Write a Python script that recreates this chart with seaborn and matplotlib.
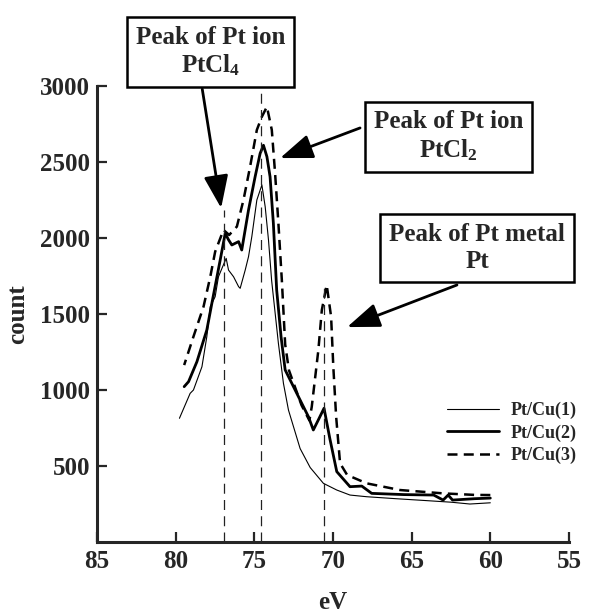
import numpy as np
import pandas as pd
import matplotlib
matplotlib.use('Agg')
import matplotlib.pyplot as plt
import seaborn as sns
from matplotlib.lines import Line2D

# 数据
thin_ev = [79.76, 79.08, 78.87, 78.33, 78.02, 77.8, 77.49, 77.28, 77.06, 76.79, 76.64, 76.32,
           76.0, 75.9, 75.58, 75.37, 75.16, 74.84, 74.52, 74.31, 74.1, 73.9, 73.47, 73.15,
           72.83, 72.09, 71.45, 70.61, 69.76, 68.92, 67.86, 66.0, 64.0, 62.5, 61.3, 60.0]
thin_ct = [814, 978, 1000, 1153, 1351, 1548, 1614, 1745, 1800, 1866, 1789, 1745,
           1680, 1669, 1789, 1877, 2009, 2250, 2349, 2206, 1987, 1720, 1307, 1044,
           868, 615, 490, 386, 342, 309, 298, 285, 272, 262, 250, 258]

solid_ev = [79.46, 79.18, 78.65, 78.02, 77.7, 77.17, 76.85, 76.65, 76.43, 76.22, 76.0, 75.8,
            75.37, 74.95, 74.63, 74.42, 74.2, 74.0, 73.79, 73.58, 73.3, 73.04, 72.09, 71.56,
            71.25, 70.9, 70.57, 70.2, 69.76, 68.92, 68.17, 67.54, 65.5, 63.6, 63.0, 62.68,
            62.4, 61.0, 60.0]
solid_ct = [1022, 1055, 1186, 1395, 1570, 1855, 2031, 1990, 1954, 1965, 1976, 1921,
            2184, 2403, 2557, 2610, 2535, 2403, 2097, 1658, 1350, 1132, 934, 824,
            737, 810, 880, 680, 463, 364, 368, 320, 312, 309, 276, 309,
            276, 285, 289]

dash_ev = [79.46, 78.87, 78.23, 77.8, 77.49, 76.96, 76.6, 76.11, 75.69, 75.27, 74.84, 74.52,
           74.2, 73.89, 73.68, 73.47, 73.25, 73.04, 72.8, 72.0, 71.5, 71.35, 70.93, 70.71,
           70.4, 70.12, 69.98, 69.8, 69.55, 69.1, 67.86, 65.74, 63.0, 61.0, 60.0]
dash_ct = [1164, 1351, 1548, 1745, 1910, 2053, 2020, 2075, 2250, 2469, 2711, 2798,
           2864, 2711, 2425, 2097, 1720, 1300, 1130, 900, 800, 890, 1263, 1526,
           1691, 1482, 1153, 824, 518, 441, 386, 342, 320, 310, 309]

labels = ['Pt/Cu(1)', 'Pt/Cu(2)', 'Pt/Cu(3)']

# 峰位参考线
ref_ev = [76.9, 74.6, 70.6]
ref_top = [2184, 2954, 1700]

plt.rcParams['mathtext.fontset'] = 'custom'
plt.rcParams['mathtext.rm'] = 'Liberation Serif:bold'
plt.rcParams['mathtext.it'] = 'Liberation Serif:bold'
plt.rcParams['mathtext.bf'] = 'Liberation Serif:bold'
plt.rcParams['mathtext.default'] = 'rm'
sns.set_style('ticks')
plt.rcParams['font.family'] = ['Liberation Serif', 'DejaVu Serif']
plt.rcParams['font.weight'] = 'bold'

fig = plt.figure(figsize=(5.94, 6.16), dpi=100)
ax = fig.add_axes([0.1633, 0.1201, 0.7946, 0.7403])

sns.lineplot(x=thin_ev, y=thin_ct, ax=ax, color='black', lw=0.8)
sns.lineplot(x=solid_ev, y=solid_ct, ax=ax, color='black', lw=2.0)
sns.lineplot(x=dash_ev, y=dash_ct, ax=ax, color='black', lw=1.8, dashes=False,
             linestyle=(0, (4, 2.5)))

ax.vlines(ref_ev, 0, ref_top, colors='#222222', lw=0.9, linestyles=(0, (8, 5)))

ax.set_xlim(85, 55)
ax.set_ylim(0, 3000)
ax.set_xticks([85, 80, 75, 70, 65, 60, 55])
ax.set_yticks([500, 1000, 1500, 2000, 2500, 3000])
ax.tick_params(direction='in', length=7, width=1.6, labelsize=18, pad=5)
ax.tick_params(axis='x', pad=6)
for s in ['top', 'right']:
    ax.spines[s].set_visible(False)
for s in ['left', 'bottom']:
    ax.spines[s].set_linewidth(2.2)

ax.set_xlabel('eV', fontsize=18, fontweight='bold', labelpad=13)
ax.set_ylabel('count', fontsize=18, fontweight='bold', labelpad=8)

# 图例
handles = [Line2D([], [], color='black', lw=0.8),
           Line2D([], [], color='black', lw=2.0),
           Line2D([], [], color='black', lw=1.8, linestyle=(0, (4, 2.5)))]
ax.legend(handles, labels, loc='center left', bbox_to_anchor=(0.7415, 0.239),
          frameon=False, fontsize=13, handlelength=2.9, handletextpad=0.6,
          labelspacing=0.3, borderpad=0, borderaxespad=0)

# 标注
box = dict(boxstyle='square,pad=0.35', fc='white', ec='black', lw=1.8)
arrow = dict(arrowstyle='-|>,head_length=2.0,head_width=0.75', color='black', lw=2,
             shrinkA=0, shrinkB=0)

ax.text(77.77, 3224, 'Peak of Pt ion\nPtCl$_4$', ha='center', va='center', fontsize=18,
        fontweight='bold', bbox=box, clip_on=False)
ax.annotate('', xy=(77.11, 2197), xytext=(78.31, 2980), arrowprops=arrow, annotation_clip=False)

ax.text(62.66, 2668, 'Peak of Pt ion\nPtCl$_2$', ha='center', va='center', fontsize=18,
        fontweight='bold', bbox=box, clip_on=False)
ax.annotate('', xy=(73.36, 2526), xytext=(68.28, 2724), arrowprops=arrow, annotation_clip=False)

ax.text(60.85, 1934, 'Peak of Pt metal\nPt', ha='center', va='center', fontsize=18,
        fontweight='bold', bbox=box, clip_on=False)
ax.annotate('', xy=(69.1, 1414), xytext=(62.12, 1691), arrowprops=arrow, annotation_clip=False)

fig.savefig('out.png', dpi=100)
